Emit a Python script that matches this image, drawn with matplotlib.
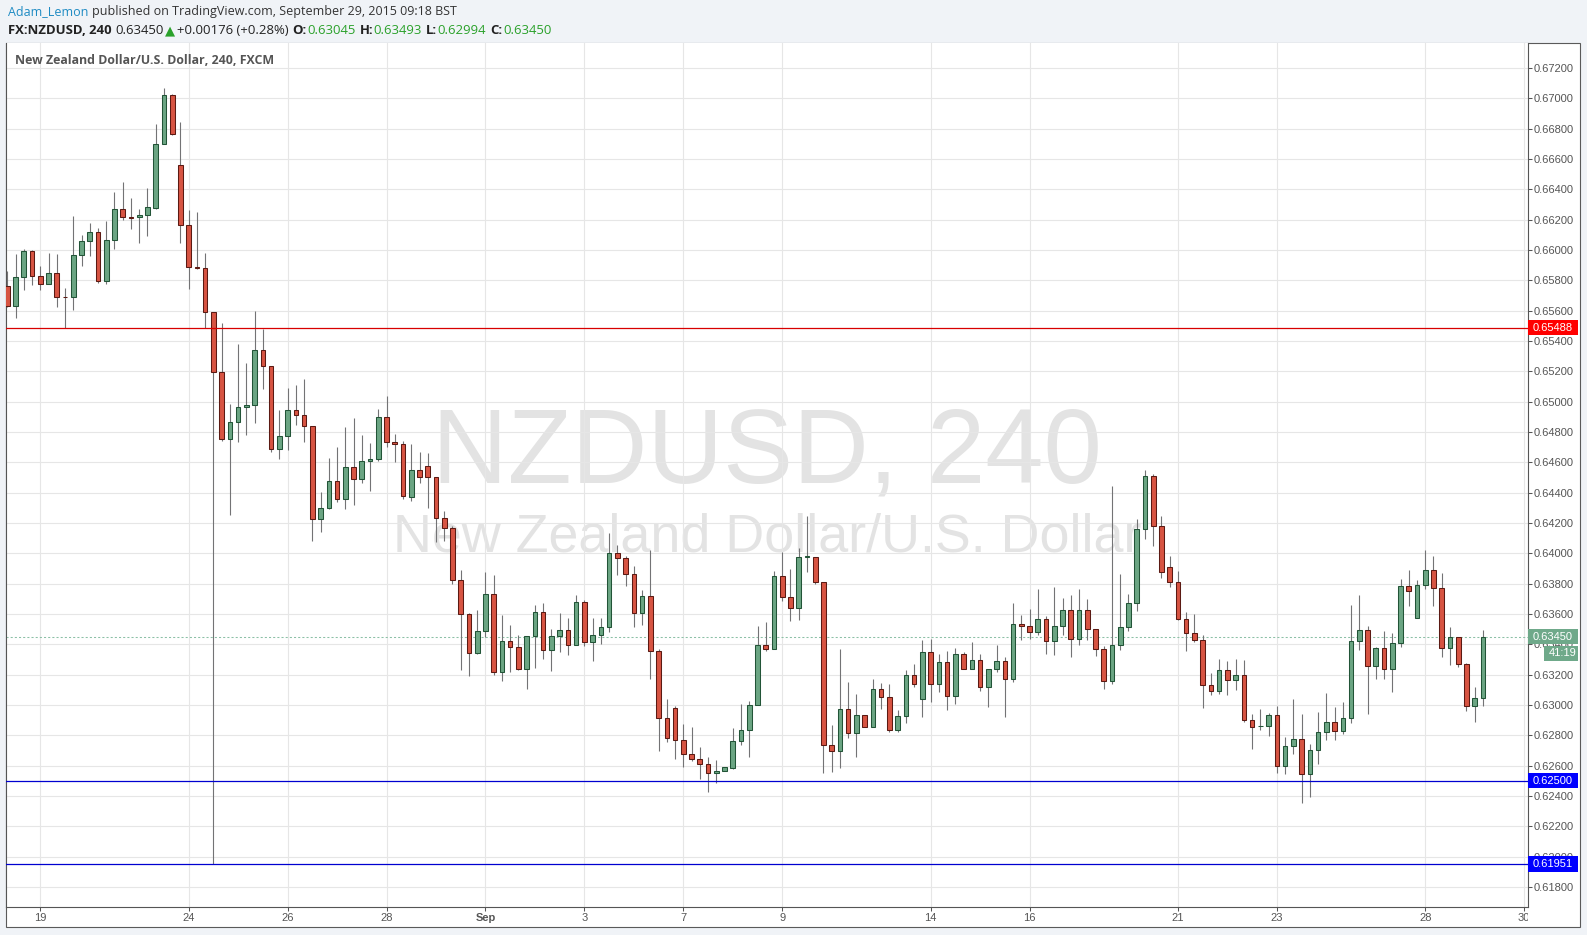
import numpy as np
import matplotlib
matplotlib.use("Agg")
import matplotlib.pyplot as plt
from matplotlib.patches import Rectangle
from matplotlib.transforms import blended_transform_factory, Bbox, TransformedBbox

plt.rcParams['font.family'] = ['Liberation Sans', 'DejaVu Sans']

# ===== Datos: velas de 4 horas FX:NZDUSD (18 ago - 29 sep 2015) =====
opens = [
    0.65766, 0.65632, 0.65825, 0.65997, 0.65832, 0.65779, 0.65852, 0.65693, 0.65693, 0.65970,
    0.66063, 0.66122, 0.65799, 0.66069, 0.66274, 0.66217, 0.66215, 0.66234, 0.66278, 0.66703,
    0.67026, 0.66558, 0.66168, 0.65891, 0.65885, 0.65593, 0.65193, 0.64757, 0.64863, 0.64962,
    0.64975, 0.65338, 0.65233, 0.64685, 0.64777, 0.64942, 0.64909, 0.64837, 0.64227, 0.64302,
    0.64474, 0.64361, 0.64566, 0.64493, 0.64612, 0.64625, 0.64896, 0.64731, 0.64724, 0.64371,
    0.64551, 0.64578, 0.64503, 0.64234, 0.64168, 0.63825, 0.63601, 0.63343, 0.63489, 0.63733,
    0.63218, 0.63423, 0.63383, 0.63238, 0.63456, 0.63614, 0.63363, 0.63456, 0.63495, 0.63396,
    0.63680, 0.63416, 0.63462, 0.63515, 0.64003, 0.63970, 0.63865, 0.63607, 0.63720, 0.63357,
    0.62915, 0.62981, 0.62770, 0.62678, 0.62645, 0.62612, 0.62552, 0.62565, 0.62585, 0.62763,
    0.62836, 0.63001, 0.63397, 0.63371, 0.63852, 0.63714, 0.63641, 0.63978, 0.63978, 0.63813,
    0.62737, 0.62697, 0.62975, 0.62816, 0.62935, 0.62856, 0.63107, 0.63054, 0.62836, 0.62930,
    0.63194, 0.63036, 0.63346, 0.63135, 0.63280, 0.63056, 0.63339, 0.63240, 0.63293, 0.63115,
    0.63234, 0.63287, 0.63168, 0.63531, 0.63518, 0.63478, 0.63564, 0.63419, 0.63518, 0.63623,
    0.63438, 0.63623, 0.63498, 0.63366, 0.63155, 0.63392, 0.63511, 0.63669, 0.64158, 0.64508,
    0.64182, 0.63912, 0.63813, 0.63568, 0.63476, 0.63430, 0.63133, 0.63093, 0.63232, 0.63166,
    0.63199, 0.62902, 0.62858, 0.62860, 0.62935, 0.62598, 0.62730, 0.62776, 0.62545, 0.62704,
    0.62823, 0.62889, 0.62829, 0.62911, 0.63419, 0.63492, 0.63254, 0.63373, 0.63234, 0.63406,
    0.63782, 0.63571, 0.63789, 0.63888, 0.63769, 0.63373, 0.63446, 0.63267, 0.62990, 0.63045,
]
highs = [
    0.65860, 0.65973, 0.66006, 0.66000, 0.65898, 0.65984, 0.65973, 0.65753, 0.66223, 0.66098,
    0.66182, 0.66149, 0.66190, 0.66380, 0.66448, 0.66342, 0.66270, 0.66408, 0.66831, 0.67066,
    0.67030, 0.66844, 0.66267, 0.66248, 0.65979, 0.65593, 0.65516, 0.64988, 0.65380, 0.65255,
    0.65598, 0.65477, 0.65233, 0.64944, 0.65090, 0.65109, 0.65149, 0.64837, 0.64403, 0.64628,
    0.64700, 0.64834, 0.64892, 0.64779, 0.64727, 0.64951, 0.65037, 0.64786, 0.64740, 0.64718,
    0.64666, 0.64659, 0.64503, 0.64276, 0.64177, 0.63893, 0.63607, 0.63629, 0.63874, 0.63854,
    0.63596, 0.63524, 0.63458, 0.63456, 0.63662, 0.63669, 0.63504, 0.63603, 0.63570, 0.63722,
    0.63695, 0.63570, 0.63570, 0.64131, 0.64052, 0.63979, 0.63913, 0.63755, 0.64020, 0.63370,
    0.63036, 0.62990, 0.62871, 0.62851, 0.62724, 0.62658, 0.62634, 0.62592, 0.62845, 0.63003,
    0.63027, 0.63518, 0.63544, 0.63881, 0.64006, 0.63894, 0.64037, 0.64244, 0.63978, 0.63813,
    0.62865, 0.63368, 0.63148, 0.63071, 0.62935, 0.63173, 0.63142, 0.63135, 0.62965, 0.63229,
    0.63267, 0.63427, 0.63434, 0.63333, 0.63355, 0.63375, 0.63348, 0.63414, 0.63335, 0.63234,
    0.63394, 0.63313, 0.63672, 0.63592, 0.63632, 0.63764, 0.63588, 0.63777, 0.63705, 0.63724,
    0.63762, 0.63698, 0.63504, 0.63386, 0.64444, 0.63863, 0.63731, 0.64224, 0.64549, 0.64525,
    0.64244, 0.63984, 0.63881, 0.63610, 0.63597, 0.63458, 0.63208, 0.63304, 0.63287, 0.63300,
    0.63293, 0.62937, 0.62970, 0.62944, 0.62996, 0.62787, 0.63036, 0.62937, 0.62739, 0.62950,
    0.63076, 0.62983, 0.63019, 0.63659, 0.63725, 0.63520, 0.63382, 0.63487, 0.63472, 0.63831,
    0.63890, 0.63824, 0.64022, 0.63982, 0.63870, 0.63514, 0.63450, 0.63276, 0.63118, 0.63493,
]
lows = [
    0.65625, 0.65552, 0.65737, 0.65770, 0.65737, 0.65775, 0.65625, 0.65489, 0.65605, 0.65898,
    0.65962, 0.65786, 0.65777, 0.66006, 0.66199, 0.66140, 0.66047, 0.66094, 0.66272, 0.66700,
    0.66760, 0.66047, 0.65742, 0.65874, 0.65489, 0.61951, 0.64742, 0.64254, 0.64735, 0.64782,
    0.64861, 0.65085, 0.64669, 0.64623, 0.64683, 0.64848, 0.64735, 0.64084, 0.64141, 0.64293,
    0.64339, 0.64293, 0.64320, 0.64465, 0.64412, 0.64612, 0.64698, 0.64603, 0.64355, 0.64344,
    0.64463, 0.64298, 0.64072, 0.64080, 0.63799, 0.63229, 0.63189, 0.63337, 0.63447, 0.63196,
    0.63156, 0.63216, 0.63229, 0.63104, 0.63244, 0.63302, 0.63222, 0.63348, 0.63328, 0.63392,
    0.63387, 0.63288, 0.63401, 0.63480, 0.63856, 0.63783, 0.63513, 0.63526, 0.63170, 0.62695,
    0.62755, 0.62642, 0.62590, 0.62627, 0.62510, 0.62425, 0.62484, 0.62565, 0.62579, 0.62735,
    0.62656, 0.63001, 0.63357, 0.63371, 0.63687, 0.63553, 0.63562, 0.63877, 0.63800, 0.62550,
    0.62557, 0.62583, 0.62781, 0.62656, 0.62856, 0.62856, 0.62972, 0.62823, 0.62823, 0.62882,
    0.63119, 0.62921, 0.63020, 0.63082, 0.62968, 0.63007, 0.63240, 0.63240, 0.63093, 0.62987,
    0.63214, 0.62921, 0.63152, 0.63430, 0.63438, 0.63458, 0.63339, 0.63326, 0.63458, 0.63313,
    0.63392, 0.63425, 0.63320, 0.63102, 0.63141, 0.63359, 0.63485, 0.63621, 0.64092, 0.64048,
    0.63837, 0.63777, 0.63560, 0.63355, 0.63414, 0.62979, 0.63065, 0.63071, 0.63065, 0.63098,
    0.62886, 0.62708, 0.62836, 0.62794, 0.62548, 0.62543, 0.62675, 0.62352, 0.62391, 0.62609,
    0.62768, 0.62768, 0.62810, 0.62882, 0.63364, 0.62942, 0.63173, 0.63173, 0.63087, 0.63384,
    0.63655, 0.63571, 0.63767, 0.63655, 0.63318, 0.63265, 0.63252, 0.62962, 0.62889, 0.62994,
]
closes = [
    0.65632, 0.65825, 0.65997, 0.65832, 0.65779, 0.65852, 0.65693, 0.65691, 0.65970, 0.66063,
    0.66122, 0.65799, 0.66069, 0.66274, 0.66215, 0.66212, 0.66234, 0.66281, 0.66703, 0.67026,
    0.66769, 0.66168, 0.65891, 0.65882, 0.65594, 0.65193, 0.64757, 0.64863, 0.64962, 0.64975,
    0.65338, 0.65233, 0.64685, 0.64777, 0.64942, 0.64909, 0.64837, 0.64227, 0.64302, 0.64474,
    0.64361, 0.64566, 0.64493, 0.64612, 0.64625, 0.64896, 0.64731, 0.64724, 0.64375, 0.64551,
    0.64503, 0.64503, 0.64234, 0.64168, 0.63825, 0.63601, 0.63343, 0.63489, 0.63733, 0.63218,
    0.63423, 0.63383, 0.63238, 0.63456, 0.63614, 0.63363, 0.63456, 0.63495, 0.63396, 0.63680,
    0.63416, 0.63462, 0.63515, 0.64003, 0.63970, 0.63865, 0.63607, 0.63720, 0.63357, 0.62915,
    0.62783, 0.62770, 0.62678, 0.62645, 0.62612, 0.62552, 0.62565, 0.62592, 0.62763, 0.62836,
    0.63001, 0.63397, 0.63371, 0.63852, 0.63714, 0.63641, 0.63978, 0.63980, 0.63813, 0.62737,
    0.62697, 0.62975, 0.62816, 0.62935, 0.62856, 0.63107, 0.63054, 0.62836, 0.62930, 0.63194,
    0.63135, 0.63346, 0.63135, 0.63280, 0.63056, 0.63339, 0.63240, 0.63293, 0.63115, 0.63234,
    0.63287, 0.63168, 0.63531, 0.63518, 0.63478, 0.63564, 0.63419, 0.63518, 0.63623, 0.63438,
    0.63623, 0.63498, 0.63366, 0.63155, 0.63392, 0.63511, 0.63669, 0.64158, 0.64508, 0.64182,
    0.63879, 0.63813, 0.63568, 0.63476, 0.63430, 0.63133, 0.63093, 0.63232, 0.63166, 0.63199,
    0.62902, 0.62856, 0.62860, 0.62935, 0.62598, 0.62730, 0.62776, 0.62545, 0.62704, 0.62823,
    0.62889, 0.62829, 0.62911, 0.63419, 0.63492, 0.63254, 0.63373, 0.63234, 0.63406, 0.63782,
    0.63749, 0.63789, 0.63888, 0.63769, 0.63373, 0.63446, 0.63267, 0.62990, 0.63043, 0.63450,
]

# indice de la primera vela de cada dia etiquetado
day_idx = [4, 22, 34, 46, 58, 70, 82, 94, 112, 124, 142, 154, 172, 184]
day_lbl = ['19', '24', '26', '28', 'Sep', '3', '7', '9', '14', '16', '21', '23', '28', '30']

# niveles dibujados por el autor
resistance = 0.65488
supports = [0.62500, 0.61951]
change, change_pct = 0.00176, 0.28
countdown = '41:19'

symbol = 'FX:NZDUSD, 240'
title = 'New Zealand Dollar/U.S. Dollar, 240, FXCM'
wm_big = 'NZDUSD, 240'
wm_small = 'New Zealand Dollar/U.S. Dollar'

UP, DOWN = '#6ba583', '#d75442'
UP_EDGE, DOWN_EDGE = '#225437', '#5b1a13'
WICK = '#737375'
GRID = '#e6e6e6'
AXC = '#555555'
VALUE_GREEN = '#2aa12a'

W, H = 1587, 935
fig = plt.figure(figsize=(W / 100, H / 100), dpi=100)
fig.patch.set_facecolor('#f0f3f7')
renderer = fig.canvas.get_renderer()

# marco blanco del grafico
fig.add_artist(Rectangle((6 / W, 1 - 927 / H), 1574 / W, 884 / H, transform=fig.transFigure,
                         facecolor='white', edgecolor='#5a5a5a', lw=0.8, zorder=-1))

ax = fig.add_axes([6 / W, 28 / H, 1522.3 / W, 864 / H])
ax.set_facecolor('white')
ax.set_xlim(-0.16, 184.5)
ax.set_ylim(0.61667, 0.67366)

o = np.array(opens)
h = np.array(highs)
l = np.array(lows)
c = np.array(closes)
x = np.arange(len(o))
up = c >= o
body_lo = np.minimum(o, c)
body_h = np.maximum(np.abs(c - o), 0.00002)

ax.vlines(x, l, h, color=WICK, lw=0.8, zorder=3)
ax.bar(x[up], body_h[up], bottom=body_lo[up], width=0.56, color=UP,
       edgecolor=UP_EDGE, lw=0.75, zorder=4)
ax.bar(x[~up], body_h[~up], bottom=body_lo[~up], width=0.56, color=DOWN,
       edgecolor=DOWN_EDGE, lw=0.75, zorder=4)

# lineas horizontales
ax.axhline(resistance, color='#d80000', lw=0.9, zorder=6)
for s in supports:
    ax.axhline(s, color='#0000d0', lw=0.9, zorder=6)
ax.axhline(c[-1], color='#8cc0a6', lw=0.75, ls=(0, (2, 2)), zorder=2)

# ejes
yt = np.arange(0.618, 0.6721, 0.002)
ax.set_yticks(yt)
ax.set_yticklabels([f'{v:.5f}' for v in yt])
ax.yaxis.tick_right()
ax.set_xticks(day_idx)
ax.set_xticklabels(day_lbl)
ax.grid(True, color=GRID, lw=0.8)
ax.set_axisbelow(True)
ax.tick_params(axis='y', length=3, width=0.75, color=AXC, pad=1, labelsize=8, labelcolor=AXC)
ax.tick_params(axis='x', length=3, width=0.75, color=AXC, pad=1.5, labelsize=8, labelcolor=AXC)
for side in ['left', 'right', 'bottom']:
    ax.spines[side].set_color(AXC)
    ax.spines[side].set_linewidth(0.8)
ax.spines['top'].set_visible(False)

clip = TransformedBbox(Bbox([[0, -1], [1, 2]]), ax.transAxes)
for lb in ax.get_xticklabels():
    lb.set_clip_box(clip)
    lb.set_clip_on(True)
    if lb.get_text() == 'Sep':
        lb.set_fontweight('bold')


def text_width(s, size, **kw):
    t = fig.text(0, 0, s, fontsize=size, **kw)
    w = t.get_window_extent(renderer).width
    t.remove()
    return w


# marca de agua
s1 = 10 * 670 / text_width(wm_big, 10)
s2 = 10 * 751 / text_width(wm_small, 10)
ax.text(0.5, (907 - 482.7) / 864, wm_big, transform=ax.transAxes, ha='center', va='baseline',
        fontsize=s1, color='#e3e3e3', zorder=0.2)
ax.text(0.5, (907 - 551.5) / 864, wm_small, transform=ax.transAxes, ha='center', va='baseline',
        fontsize=s2, color='#e3e3e3', zorder=0.2)

# etiquetas de precio a la derecha
bt = blended_transform_factory(ax.transAxes, ax.transData)
ppx = 15161.0           # pixeles por unidad de precio
axw = 1522.3


def price_tag(price, color, text, x0=0.0, w=50, dy=0):
    yc = price - dy / ppx
    ax.add_patch(Rectangle((1 + x0 / axw, yc - 7.6 / ppx), w / axw, 15.2 / ppx, transform=bt,
                           facecolor=color, edgecolor='none', clip_on=False, zorder=10))
    ax.text(1 + (x0 + 4.8) / axw, yc, text, transform=bt, va='center', ha='left', color='white',
            fontsize=8, clip_on=False, zorder=11)


price_tag(resistance, '#ff0000', f'{resistance:.5f}')
for s in supports:
    price_tag(s, '#0000ff', f'{s:.5f}')
price_tag(c[-1], '#6fa98a', f'{c[-1]:.5f}')
price_tag(c[-1], '#6fa98a', countdown, x0=16, w=34, dy=16.8)

# titulo dentro del grafico
st = 10 * 259 / text_width(title, 10, family=['Open Sans', 'DejaVu Sans'], fontweight='bold')
fig.text(15 / W, 1 - 60 / H, title, fontsize=st, family=['Open Sans', 'DejaVu Sans'],
         fontweight='bold', color='#555555', va='center')

# cabecera
fam_head = ['Open Sans', 'DejaVu Sans']


def header(pieces, x_px, y_px, target_px):
    def layout(size, draw):
        xx = x_px
        for s, col, wt, gap in pieces:
            xx += gap * size * fig.dpi / 72
            t = fig.text(xx / W, 1 - y_px / H, s, fontsize=size, color=col, fontweight=wt,
                         family=fam_head, va='center')
            xx += t.get_window_extent(renderer).width
            if not draw:
                t.remove()
        return xx - x_px
    total = layout(10.0, False)
    layout(10.0 * target_px / total, True)


header([('Adam_Lemon', '#1e8bc3', 'normal', 0),
        ('published on TradingView.com, September 29, 2015 09:18 BST', '#333333', 'normal', 0.25)],
       8, 12, 448)

header([(symbol, '#222222', 'bold', 0),
        (f'{c[-1]:.5f}', '#222222', 'normal', 0.3),
        ('▲', VALUE_GREEN, 'normal', 0.1),
        (f'+{change:.5f} (+{change_pct:.2f}%)', '#222222', 'normal', 0.1),
        ('O:', '#222222', 'bold', 0.3), (f'{o[-1]:.5f}', VALUE_GREEN, 'normal', 0.05),
        ('H:', '#222222', 'bold', 0.3), (f'{h[-1]:.5f}', VALUE_GREEN, 'normal', 0.05),
        ('L:', '#222222', 'bold', 0.3), (f'{l[-1]:.5f}', VALUE_GREEN, 'normal', 0.05),
        ('C:', '#222222', 'bold', 0.3), (f'{c[-1]:.5f}', VALUE_GREEN, 'normal', 0.05)],
       8, 30.5, 542)

fig.savefig('out.png', dpi=100, facecolor=fig.get_facecolor())
